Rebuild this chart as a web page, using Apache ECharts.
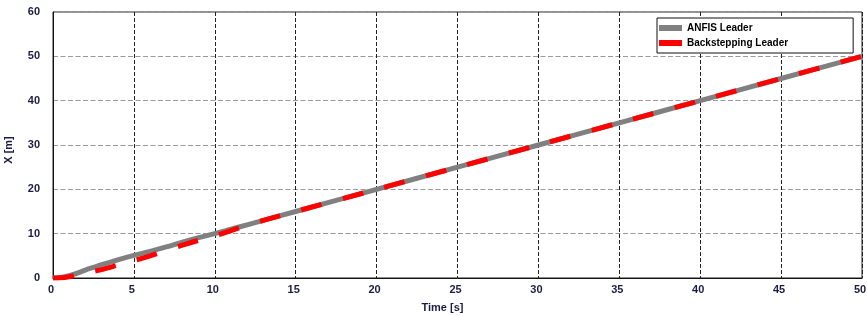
<!DOCTYPE html>
<html>
<head>
<meta charset="utf-8">
<script src="https://cdn.jsdelivr.net/npm/echarts@6/dist/echarts.min.js"></script>
<style>html,body{margin:0;padding:0;background:#fff}#c{width:867px;height:316px}</style>
</head>
<body>
<div id="c"></div>
<script>
var time = [0,0.5,1,1.5,2,2.5,3,4,5,6,7,8,9,10,11,12,13,15,20,25,30,35,40,45,50];
var anfis = [0,0.1,0.5,1.1,1.8,2.4,3.0,4.1,5.1,6.0,7.0,8.1,9.1,10.0,11.0,12.0,13.0,15.0,20.0,25.0,30.0,35.0,40.0,45.0,50.0];
var backstepping = [0,0.05,0.3,0.65,1.1,1.5,1.9,2.9,3.9,5.0,6.2,7.4,8.5,9.5,10.7,11.9,13.0,15.0,20.0,25.0,30.0,35.0,40.0,45.0,50.0];
var seriesNames = ['ANFIS Leader','Backstepping Leader'];

function pairs(xs, ys){ return xs.map(function(x,i){ return [x, ys[i]]; }); }

var chart = echarts.init(document.getElementById('c'));
var font = 'Liberation Sans, Arial, sans-serif';
chart.setOption({
  animation: false,
  backgroundColor: '#fff',
  grid: { left: 53, right: 5, top: 12, bottom: 38, show: true, borderColor: '#222', borderWidth: 1, backgroundColor: 'transparent', containLabel: false, outerBoundsMode: 'none' },
  legend: {
    orient: 'vertical', left: 657, top: 18,
    padding: [5, 65, 5, 2], itemGap: 5,
    itemWidth: 23, itemHeight: 6, icon: 'rect',
    borderColor: '#111', borderWidth: 1, backgroundColor: '#fff',
    textStyle: { fontFamily: font, fontWeight: 'bold', fontSize: 10, color: '#000', padding: [0,0,0,0] },
    data: [
      { name: seriesNames[0], icon: 'rect', itemStyle: { color: '#808080' } },
      { name: seriesNames[1], icon: 'rect', itemStyle: { color: '#ff0000' } }
    ]
  },
  xAxis: {
    type: 'value', min: 0, max: 50, interval: 5,
    name: 'Time [s]', nameLocation: 'middle', nameGap: 24,
    nameTextStyle: { fontFamily: font, fontWeight: 'bold', fontSize: 11, color: '#1c1c44', padding: [0, 30, 0, 0] },
    axisLine: { show: true, lineStyle: { color: '#111', width: 1 } },
    axisTick: { show: false },
    axisLabel: { fontFamily: font, fontWeight: 'bold', fontSize: 11, color: '#1c1c44', margin: 6, padding: [0, 4, 0, 0] },
    splitLine: { show: true, lineStyle: { color: '#222', width: 1, type: [4, 2] } }
  },
  yAxis: {
    type: 'value', min: 0, max: 60, interval: 10,
    name: 'X [m]', nameLocation: 'middle', nameGap: 39, nameRotate: 90,
    nameTextStyle: { fontFamily: font, fontWeight: 'bold', fontSize: 11, color: '#1c1c44', padding: [0, 10, 0, 0] },
    axisLine: { show: true, lineStyle: { color: '#111', width: 1 } },
    axisTick: { show: false },
    axisLabel: { fontFamily: font, fontWeight: 'bold', fontSize: 11, color: '#1c1c44', margin: 13, padding: [0, 0, 7, 0] },
    splitLine: { show: true, lineStyle: { color: '#9a9a9a', width: 1, type: [5, 2.5] } }
  },
  series: [
    { name: seriesNames[0], type: 'line', data: pairs(time, anfis), smooth: 0.3, showSymbol: false,
      lineStyle: { color: '#808080', width: 5 }, itemStyle: { color: '#808080' }, z: 2 },
    { name: seriesNames[1], type: 'line', data: pairs(time, backstepping), smooth: 0.3, showSymbol: false,
      lineStyle: { color: '#ff0000', width: 5, type: [21, 22], cap: 'butt' }, itemStyle: { color: '#ff0000' }, z: 3 }
  ]
});
</script>
</body>
</html>
